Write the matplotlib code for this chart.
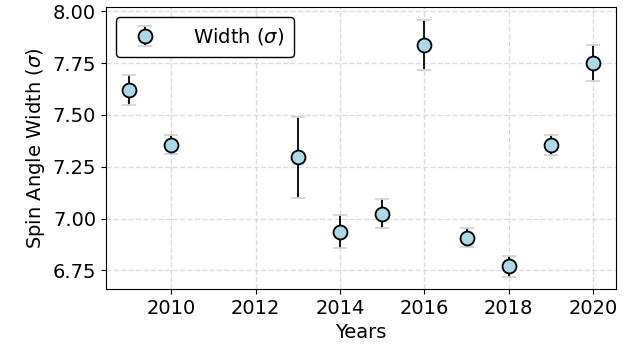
import numpy as np
import matplotlib.pyplot as plt

years = [2009, 2010, 2013, 2014, 2015, 2016, 2017, 2018, 2019, 2020]
width = [7.62, 7.356, 7.295, 6.937, 7.024, 7.836, 6.908, 6.769, 7.354, 7.75]
width_err = [0.074, 0.045, 0.195, 0.078, 0.068, 0.122, 0.046, 0.049, 0.05, 0.088]

fig, ax = plt.subplots(figsize=(6.38, 3.52), dpi=100)
fig.subplots_adjust(left=0.166, right=0.966, top=0.980, bottom=0.179)

line, caps, bars = ax.errorbar(years, width, yerr=width_err, fmt='o', color='lightblue',
                               markeredgecolor='black', markeredgewidth=1.3, markersize=10,
                               ecolor='black', elinewidth=1.3, capsize=5, capthick=1,
                               label=r'Width ($\sigma$)', zorder=3)
for c in caps:
    c.set_markeredgecolor('lightgray')

ax.set_xlabel('Years', fontsize=14)
ax.set_ylabel(r'Spin Angle Width ($\sigma$)', fontsize=14)
ax.tick_params(labelsize=14)
ax.set_yticks([6.75, 7.00, 7.25, 7.50, 7.75, 8.00])
ax.set_ylim(6.66, 8.02)
ax.grid(True, linestyle='--', color='lightgray', linewidth=1, alpha=0.8)
ax.legend(loc='upper left', fontsize=14, edgecolor='black', framealpha=1,
          handletextpad=1.5, borderpad=0.5)

plt.savefig('out.png')
